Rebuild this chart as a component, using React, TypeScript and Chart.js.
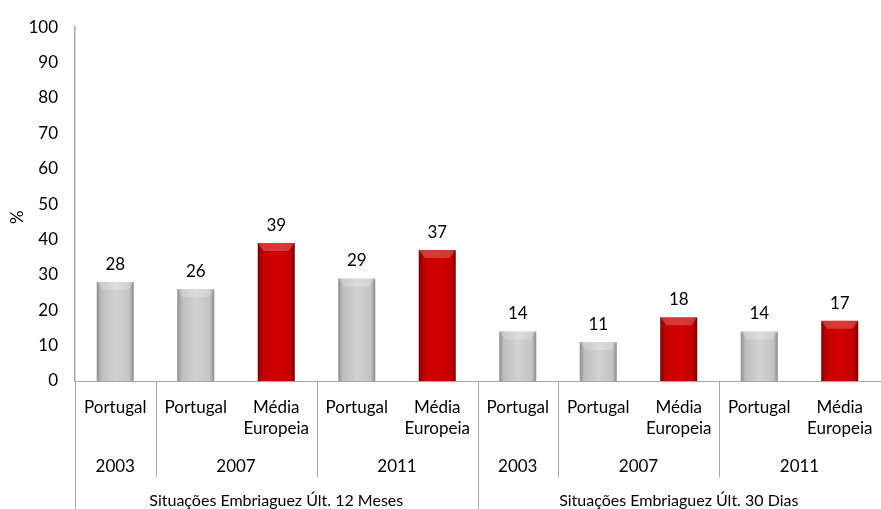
import React, { useEffect, useRef } from "react";
import { Chart, registerables } from "chart.js";

Chart.register(...registerables);

// ---- Data ----
const categories = [
  "Portugal",
  "Portugal",
  "Média Europeia",
  "Portugal",
  "Média Europeia",
  "Portugal",
  "Portugal",
  "Média Europeia",
  "Portugal",
  "Média Europeia",
];
const years = ["2003", "2007", "2007", "2011", "2011", "2003", "2007", "2007", "2011", "2011"];
const groups = [
  "Situações Embriaguez Últ. 12 Meses",
  "Situações Embriaguez Últ. 12 Meses",
  "Situações Embriaguez Últ. 12 Meses",
  "Situações Embriaguez Últ. 12 Meses",
  "Situações Embriaguez Últ. 12 Meses",
  "Situações Embriaguez Últ. 30 Dias",
  "Situações Embriaguez Últ. 30 Dias",
  "Situações Embriaguez Últ. 30 Dias",
  "Situações Embriaguez Últ. 30 Dias",
  "Situações Embriaguez Últ. 30 Dias",
];
const values = [28, 26, 39, 29, 37, 14, 11, 18, 14, 17];
const yMin = 0;
const yMax = 100;
const yStep = 10;
const yTitle = "%";

// ---- Styles ----
const FONT = "Lato";
const FS = 17;
const BAR_PCT = 0.46;
const AXIS_COLOR = "#a6a6a6";

function isEU(i: number) {
  return categories[i] !== "Portugal";
}

function runs(keys: string[]) {
  const out: { start: number; end: number; label: string }[] = [];
  let s = 0;
  for (let i = 1; i <= keys.length; i++) {
    if (i === keys.length || keys[i] !== keys[s]) {
      out.push({ start: s, end: i, label: keys[s].split("|").pop() as string });
      s = i;
    }
  }
  return out;
}

const multiAxisPlugin = {
  id: "multiAxis",
  afterDatasetsDraw(chart: any) {
    const ctx = chart.ctx;
    const meta = chart.getDatasetMeta(0);
    ctx.save();
    meta.data.forEach((bar: any, i: number) => {
      const w = bar.width;
      const l = bar.x - w / 2;
      const r = bar.x + w / 2;
      const t = bar.y;
      // top bevel highlight
      ctx.beginPath();
      ctx.moveTo(l, t);
      ctx.lineTo(r, t);
      ctx.lineTo(r - 6, t + 8);
      ctx.lineTo(l + 6, t + 8);
      ctx.closePath();
      ctx.fillStyle = "rgba(255,255,255,0.22)";
      ctx.fill();
      // value label
      ctx.fillStyle = "#000";
      ctx.font = `${FS}px ${FONT}`;
      ctx.textAlign = "center";
      ctx.textBaseline = "alphabetic";
      ctx.fillText(String(values[i]), bar.x, t - 12);
    });
    ctx.restore();
  },
  afterDraw(chart: any) {
    const ctx = chart.ctx;
    const area = chart.chartArea;
    const n = categories.length;
    const w = (area.right - area.left) / n;
    const bx = (k: number) => Math.round(area.left + k * w) + 0.5;
    const bottom = chart.height;
    ctx.save();
    ctx.strokeStyle = AXIS_COLOR;
    ctx.lineWidth = 1;
    // left axis continuation
    ctx.beginPath();
    ctx.moveTo(bx(0), area.bottom);
    ctx.lineTo(bx(0), bottom);
    ctx.stroke();

    const groupRuns = runs(groups);
    const yearRuns = runs(groups.map((g, i) => g + "|" + years[i]));
    // year separators
    yearRuns.forEach((r) => {
      if (r.start === 0) return;
      const isGroupBoundary = groupRuns.some((g) => g.start === r.start);
      ctx.beginPath();
      ctx.moveTo(bx(r.start), area.bottom);
      ctx.lineTo(bx(r.start), isGroupBoundary ? bottom : area.bottom + 96);
      ctx.stroke();
    });

    ctx.fillStyle = "#000";
    ctx.font = `${FS}px ${FONT}`;
    ctx.textAlign = "center";
    ctx.textBaseline = "middle";
    // level 1 labels
    categories.forEach((c, i) => {
      const cx = area.left + (i + 0.5) * w;
      const lines = c.split(" ");
      lines.forEach((ln, j) => {
        ctx.fillText(ln, cx, area.bottom + 27 + j * 21);
      });
    });
    // years
    yearRuns.forEach((r) => {
      const cx = area.left + ((r.start + r.end) / 2) * w;
      ctx.fillText(r.label, cx, area.bottom + 86);
    });
    // groups
    ctx.font = `16px ${FONT}`;
    groupRuns.forEach((r) => {
      const cx = area.left + ((r.start + r.end) / 2) * w;
      ctx.fillText(r.label, cx, area.bottom + 120);
    });
    // y title
    ctx.font = `${FS}px ${FONT}`;
    ctx.save();
    ctx.translate(18, (area.top + area.bottom) / 2 + 13);
    ctx.rotate(-Math.PI / 2);
    ctx.fillText(yTitle, 0, 0);
    ctx.restore();
    ctx.restore();
  },
};

function makeGradient(chart: any, index: number) {
  const xs = chart.scales.x;
  const colorsGray = ["#8c8c8c", "#bdbdbd", "#d2d2d2", "#c4c4c4", "#8a8a8a"];
  const colorsRed = ["#7a0000", "#c00000", "#d40000", "#c00000", "#7a0000"];
  const cols = isEU(index) ? colorsRed : colorsGray;
  if (!xs || !chart.chartArea) return cols[2];
  const cx = xs.getPixelForValue(index);
  const bw = ((chart.chartArea.right - chart.chartArea.left) / categories.length) * BAR_PCT;
  const g = chart.ctx.createLinearGradient(cx - bw / 2, 0, cx + bw / 2, 0);
  g.addColorStop(0, cols[0]);
  g.addColorStop(0.12, cols[1]);
  g.addColorStop(0.5, cols[2]);
  g.addColorStop(0.88, cols[3]);
  g.addColorStop(1, cols[4]);
  return g;
}

export default function App() {
  const ref = useRef<HTMLCanvasElement | null>(null);
  useEffect(() => {
    document.body.style.margin = "0";
    if (!ref.current) return;
    const chart = new Chart(ref.current, {
      type: "bar",
      data: {
        labels: categories.map((c, i) => `${c} ${years[i]}`),
        datasets: [
          {
            data: values,
            backgroundColor: (ctx: any) => makeGradient(ctx.chart, ctx.dataIndex),
            borderWidth: 0,
            barPercentage: BAR_PCT,
            categoryPercentage: 1,
          },
        ],
      },
      options: {
        animation: false,
        responsive: false,
        devicePixelRatio: 1,
        layout: { padding: { top: 25, right: 1, left: 0, bottom: 0 } },
        plugins: { legend: { display: false }, tooltip: { enabled: false } },
        scales: {
          x: {
            grid: { display: false, drawTicks: false },
            border: { display: true, color: AXIS_COLOR, width: 1 },
            ticks: { display: false },
            afterFit: (s: any) => {
              s.height = 128;
            },
          },
          y: {
            min: yMin,
            max: yMax,
            grid: { display: false, drawTicks: false },
            border: { display: true, color: AXIS_COLOR, width: 1.5 },
            ticks: {
              stepSize: yStep,
              color: "#000",
              padding: 17,
              font: { family: FONT, size: FS },
            },
            afterFit: (s: any) => {
              s.width = 75;
            },
          },
        },
      },
      plugins: [multiAxisPlugin],
    } as any);
    return () => chart.destroy();
  }, []);
  return (
    <div style={{ width: 881, height: 509 }}>
      <canvas ref={ref} width={881} height={509} style={{ display: "block" }} />
    </div>
  );
}
